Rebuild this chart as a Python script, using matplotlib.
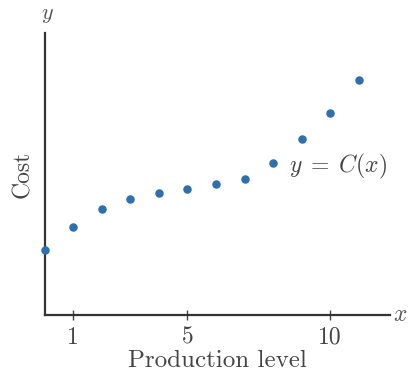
import matplotlib.pyplot as plt

plt.rcParams['font.family'] = 'cmr10'
plt.rcParams['mathtext.fontset'] = 'cm'
plt.rcParams['axes.formatter.use_mathtext'] = True

# production level and cost
level = [0, 1, 2, 3, 4, 5, 6, 7, 8, 9, 10, 11]
cost = [65, 88, 106, 116, 122, 126, 131, 136, 152, 176, 202, 235]
tick_pos = [1, 5, 10]
tick_lab = ['1', '5', '10']

fig = plt.figure(figsize=(4.11, 3.79), dpi=100)
ax = fig.add_axes([0.109, 0.169, 0.84, 0.744])

ax.scatter(level, cost, s=26, color='#2f6fae', zorder=3, clip_on=False)

ax.set_xlim(0, 12.1)
ax.set_ylim(0, 282)
for s in ['top', 'right']:
    ax.spines[s].set_visible(False)
for s in ['left', 'bottom']:
    ax.spines[s].set_linewidth(1.6)
    ax.spines[s].set_color('#333333')

ax.set_xticks(tick_pos)
ax.set_xticklabels(tick_lab, fontsize=17, color='#444444')
ax.set_yticks([])
ax.tick_params(axis='x', direction='inout', length=7, width=1, colors='#444444', pad=5)

ax.set_xlabel('Production level', fontsize=18, color='#444444', labelpad=1)
ax.set_ylabel('Cost', fontsize=17, color='#444444', labelpad=8)

ax.text(12.2, 0, '$x$', fontsize=17, color='#555555', va='center', ha='left', clip_on=False)
ax.text(0.1, 290, '$y$', fontsize=16, color='#555555', va='bottom', ha='center', clip_on=False)
ax.text(8.55, 149, r'$y\;=\;C(x)$', fontsize=17, color='#444444', va='center', ha='left')

plt.savefig('out.png')
